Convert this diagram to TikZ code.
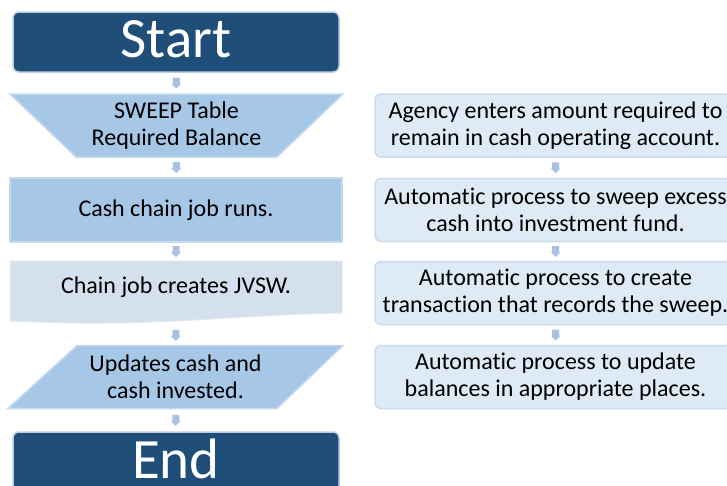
\documentclass[tikz,border=0pt]{standalone}
\usepackage{fontspec}
\setmainfont{Carlito}[Ligatures=CommonOff]
\usetikzlibrary{backgrounds,calc}
\definecolor{darkblue}{HTML}{1F4E79}
\definecolor{termborder}{HTML}{BCCDE2}
\definecolor{midfill}{HTML}{A7C7E7}
\definecolor{midborder}{HTML}{C6D9EF}
\definecolor{docfill}{HTML}{D5E0EE}
\definecolor{rfill}{HTML}{DEEAF6}
\definecolor{rborder}{HTML}{CADBEE}
\definecolor{arrowcol}{HTML}{A9C1E3}
\tikzset{
  txt/.style={font=\fontsize{24}{27}\selectfont, align=center, inner sep=0pt, outer sep=0pt},
  termbox/.style={rounded corners=6pt, fill=darkblue, draw=termborder, line width=1.5pt,
    minimum width=326pt, minimum height=60pt, inner sep=0pt, outer sep=0pt},
  termtext/.style={text=white, font=\fontsize{57}{60}\selectfont, inner sep=0pt, outer sep=0pt},
  midrect/.style={txt, fill=midfill, draw=midborder, line width=1.5pt, minimum width=332pt, minimum height=64pt},
  shapebox/.style={txt, minimum width=#1, minimum height=63pt},
  rbox/.style={txt, rounded corners=6pt, fill=rfill, draw=rborder, line width=1.5pt,
    minimum width=361pt, minimum height=63pt},
  blockarrow/.pic={\fill[arrowcol] (-3.5,-5.5) -- (3.5,-5.5) -- (3.5,0.5) -- (5,0.5) -- (0,5.5) -- (-5,0.5) -- (-3.5,0.5) -- cycle;}
}
\begin{document}
\begin{tikzpicture}[x=1pt,y=-1pt]
\useasboundingbox (0,0) rectangle (727,485);
\begin{scope}
\clip (0,0) rectangle (727,485);
% left column
\node[termbox] (start) at (176,42) {};
\node[termtext] (starttxt) at (176,39.5) {Start};
\node[shapebox=333pt] (trap) at (176.5,125.5) {SWEEP Table\\Required Balance};
\node[midrect] (cash) at (176,210) {Cash chain job runs.};
\node[txt, minimum width=332pt, minimum height=52pt] (doc) at (176,287) {Chain job creates JVSW.};
\node[shapebox=335pt] (para) at (175.5,377) {Updates cash and\\cash invested.};
\node[termbox] (end) at (176,462) {};
\node[termtext] (endtxt) at (176,459) {End};
\begin{pgfonlayer}{background}
  \filldraw[fill=midfill, draw=midborder, line width=1.5pt]
    (trap.north west) -- (trap.north east) -- ([xshift=-66pt]trap.south east) -- ([xshift=66pt]trap.south west) -- cycle;
  \filldraw[fill=docfill, draw=docfill!70!white, line width=1pt]
    (doc.north west) -- (doc.north east) -- (doc.south east)
    .. controls ([xshift=-120pt,yshift=-2pt]doc.south east) and ([xshift=150pt,yshift=-15pt]doc.south west) ..
    ([yshift=-8pt]doc.south west) -- cycle;
  \filldraw[fill=midfill, draw=midborder, line width=1.5pt]
    ([xshift=69pt]para.north west) -- (para.north east) -- ([xshift=-66pt]para.south east) -- (para.south west) -- cycle;
\end{pgfonlayer}
% right column
\node[rbox] (r1) at (555.5,125.5) {Agency enters amount required to\\remain in cash operating account.};
\node[rbox] (r2) at (555.5,210) {Automatic process to sweep excess\\cash into investment fund.};
\node[rbox] (r3) at (555.5,293) {Automatic process to create\\transaction that records the sweep.};
\node[rbox] (r4) at (555.5,377) {Automatic process to update\\balances in appropriate places.};
% arrows
\path ($(start.south)!0.5!(trap.north)$) pic{blockarrow};
\path ($(trap.south)!0.5!(cash.north)$) pic{blockarrow};
\path ($(cash.south)!0.5!(doc.north)$) pic{blockarrow};
\path ($(doc.south)!0.5!(para.north)$) ++(0,6) pic{blockarrow};
\path ($(para.south)!0.5!(end.north)$) pic{blockarrow};
\path ($(r1.south)!0.5!(r2.north)$) pic{blockarrow};
\path ($(r2.south)!0.5!(r3.north)$) pic{blockarrow};
\path ($(r3.south)!0.5!(r4.north)$) pic{blockarrow};
\end{scope}
\end{tikzpicture}
\end{document}
